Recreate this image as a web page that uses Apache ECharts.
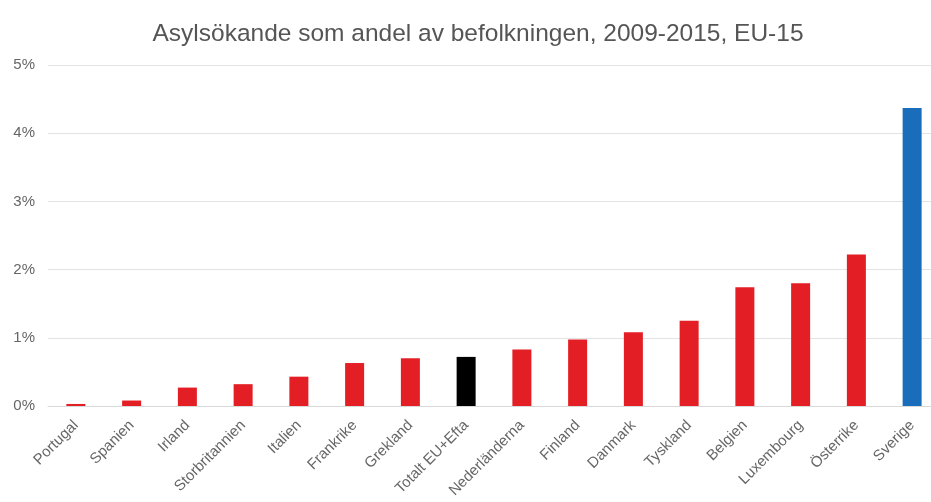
<!DOCTYPE html>
<html>
<head>
<meta charset="utf-8">
<script src="https://cdn.jsdelivr.net/npm/echarts@6/dist/echarts.min.js"></script>
<style>
  html, body { margin: 0; padding: 0; background: #fff; }
  #chart { width: 931px; height: 502px; }
</style>
</head>
<body>
<div id="chart"></div>
<script>
// Asylum seekers as a share of population, 2009-2015 (percent)
const countries = ['Portugal', 'Spanien', 'Irland', 'Storbritannien', 'Italien', 'Frankrike', 'Grekland',
  'Totalt EU+Efta', 'Nederländerna', 'Finland', 'Danmark', 'Tyskland', 'Belgien', 'Luxembourg', 'Österrike', 'Sverige'];
const shares = [0.03, 0.08, 0.27, 0.32, 0.43, 0.63, 0.70, 0.72, 0.83, 0.975, 1.08, 1.25, 1.74, 1.80, 2.22, 4.37];
const highlightTotal = 'Totalt EU+Efta';
const highlightSweden = 'Sverige';
const yTicks = [0, 1, 2, 3, 4, 5];

const RED = '#e31e24', BLUE = '#1a6dbb', BLACK = '#000000';
const FONT = 'Liberation Sans, Arial, sans-serif';

const chart = echarts.init(document.getElementById('chart'));
chart.setOption({
  animation: false,
  backgroundColor: '#ffffff',
  title: {
    text: 'Asylsökande som andel av befolkningen, 2009-2015, EU-15',
    left: 473, top: 17, textAlign: 'center',
    textStyle: { fontFamily: FONT, fontSize: 24.5, fontWeight: 'normal', color: '#555555' }
  },
  grid: { left: 48, top: 65, bottom: 96, width: 892, outerBoundsMode: 'none', containLabel: false },
  xAxis: {
    type: 'category',
    data: countries,
    axisLine: { show: true, lineStyle: { color: '#d9d9d9' } },
    axisTick: { show: false },
    axisLabel: {
      rotate: 45, interval: 0, margin: 17,
      fontFamily: FONT, fontSize: 15, color: '#666666'
    }
  },
  yAxis: {
    type: 'value',
    min: yTicks[0], max: yTicks[yTicks.length - 1], interval: 1,
    axisLine: { show: false },
    axisTick: { show: false },
    splitLine: { lineStyle: { color: '#e3e3e3', width: 1 } },
    axisLabel: {
      margin: 13,
      fontFamily: FONT, fontSize: 15, color: '#666666',
      formatter: v => v + '%'
    }
  },
  series: [{
    type: 'bar',
    barWidth: 19,
    data: countries.map((c, i) => ({
      value: shares[i],
      itemStyle: { color: c === highlightSweden ? BLUE : (c === highlightTotal ? BLACK : RED) }
    }))
  }]
});
</script>
</body>
</html>
